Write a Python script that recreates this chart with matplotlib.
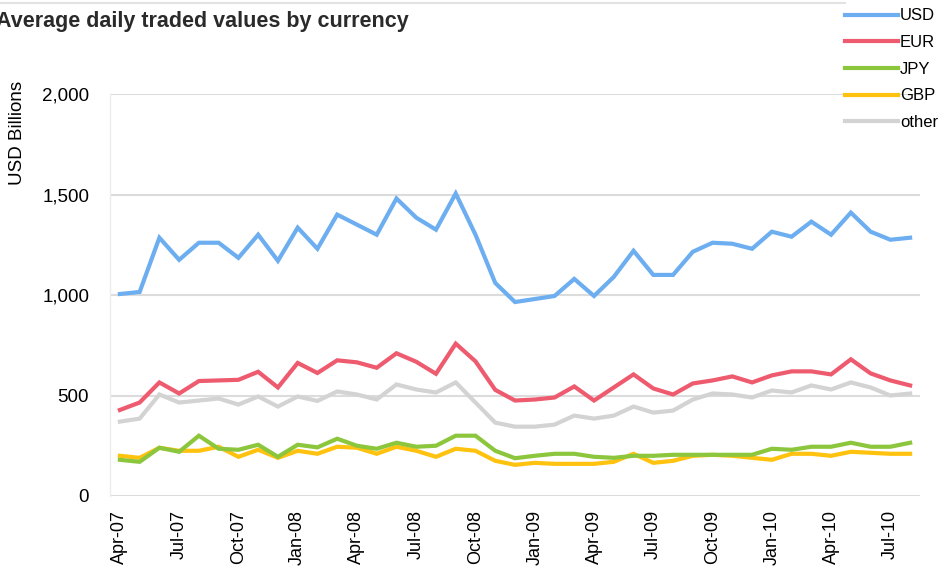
import matplotlib
matplotlib.use("Agg")
import matplotlib.pyplot as plt
from matplotlib.lines import Line2D

plt.rcParams['font.family'] = ['Liberation Sans', 'DejaVu Sans']

# Monthly observations, Apr-07 .. Aug-10 (USD billions per day)
months = ["Apr-07", "May-07", "Jun-07", "Jul-07", "Aug-07", "Sep-07", "Oct-07", "Nov-07", "Dec-07",
          "Jan-08", "Feb-08", "Mar-08", "Apr-08", "May-08", "Jun-08", "Jul-08", "Aug-08", "Sep-08",
          "Oct-08", "Nov-08", "Dec-08", "Jan-09", "Feb-09", "Mar-09", "Apr-09", "May-09", "Jun-09",
          "Jul-09", "Aug-09", "Sep-09", "Oct-09", "Nov-09", "Dec-09", "Jan-10", "Feb-10", "Mar-10",
          "Apr-10", "May-10", "Jun-10", "Jul-10", "Aug-10"]

usd = [1005, 1015, 1285, 1175, 1260, 1260, 1185, 1300, 1170, 1335, 1230, 1400, 1350, 1300, 1480,
       1385, 1325, 1505, 1300, 1060, 965, 980, 995, 1080, 995, 1090, 1220, 1100, 1100, 1215, 1260,
       1255, 1230, 1315, 1290, 1365, 1300, 1410, 1315, 1275, 1285]
eur = [428, 465, 565, 510, 572, 575, 578, 618, 540, 662, 612, 675, 665, 638, 710, 668, 608, 758,
       670, 528, 475, 480, 490, 545, 475, 540, 605, 535, 505, 560, 575, 595, 565, 600, 620, 620,
       605, 680, 610, 575, 550]
jpy = [180, 170, 240, 220, 300, 235, 230, 255, 195, 255, 242, 285, 250, 235, 265, 245, 250, 300,
       300, 225, 188, 200, 210, 210, 195, 190, 200, 200, 205, 205, 205, 205, 205, 235, 230, 245,
       245, 265, 245, 245, 265]
gbp = [200, 190, 240, 225, 225, 245, 195, 230, 190, 225, 210, 245, 240, 210, 245, 225, 195, 235,
       225, 175, 155, 165, 160, 160, 160, 170, 210, 165, 175, 200, 205, 200, 190, 180, 210, 210,
       200, 220, 215, 210, 210]
other = [370, 385, 505, 465, 475, 485, 455, 495, 445, 495, 473, 520, 505, 480, 555, 530, 515, 565,
         465, 365, 345, 345, 355, 400, 385, 400, 445, 415, 425, 480, 510, 505, 490, 525, 515, 550,
         530, 565, 540, 500, 510]

series = [("USD", usd, "#6caef0"),
          ("EUR", eur, "#ee5a6e"),
          ("JPY", jpy, "#8cc63c"),
          ("GBP", gbp, "#ffc20e"),
          ("other", other, "#d3d3d3")]

yticks = [0, 500, 1000, 1500, 2000]
ytick_labels = ["0", "500", "1,000", "1,500", "2,000"]

W, H = 947, 569
fig = plt.figure(figsize=(W / 100, H / 100), dpi=100)
fig.patch.set_facecolor("white")

ax = fig.add_axes([110 / W, 1 - 496 / H, (920 - 110) / W, (496 - 94) / H])
x = list(range(len(months)))

# draw back to front so the main series sits on top
for name, vals, col in reversed(series):
    ax.plot(x, vals, color=col, lw=3.0, solid_joinstyle="miter", label=name, zorder=3)

ax.set_xlim(-0.5, len(months) - 0.5)
ax.set_ylim(0, 2000)
ax.set_yticks(yticks)
ax.set_yticklabels(ytick_labels, fontsize=13.5)
tick_idx = list(range(0, len(months), 3))
ax.set_xticks(tick_idx)
ax.set_xticklabels([months[i] for i in tick_idx], rotation=90, fontsize=13)
ax.tick_params(axis="both", length=0)
ax.tick_params(axis="y", pad=15)
ax.tick_params(axis="x", pad=10)

ax.grid(axis="y", color="#dcdcdc", lw=1.5, zorder=0)
for s in ["top", "right", "bottom"]:
    ax.spines[s].set_visible(False)
ax.spines["left"].set_color("#ececec")
ax.spines["left"].set_linewidth(1.0)

# legend in the top-right corner
handles = [Line2D([0], [0], color=c, lw=3.0) for _, _, c in series]
labels = [n for n, _, _ in series]
fig.legend(handles, labels, loc="upper left", bbox_to_anchor=(845 / W, 1 - 8.5 / H),
           frameon=False, fontsize=12, handlelength=3.2, handletextpad=0.1,
           labelspacing=0.7, borderaxespad=0, borderpad=0)

fig.text(-4 / W, 1 - 27 / H, "Average daily traded values by currency",
         fontsize=15.5, fontweight="bold", color="#2a2a2a", ha="left", va="baseline")
fig.text(18 / W, 1 - 133 / H, "USD Billions", rotation=90, fontsize=13.5,
         ha="center", va="center")

# thin border line along the top edge
fig.add_artist(Line2D([0, 845 / W], [1 - 2.5 / H, 1 - 2.5 / H], color="#e2e2e2", lw=1.5))

fig.savefig("out.png", dpi=100)
